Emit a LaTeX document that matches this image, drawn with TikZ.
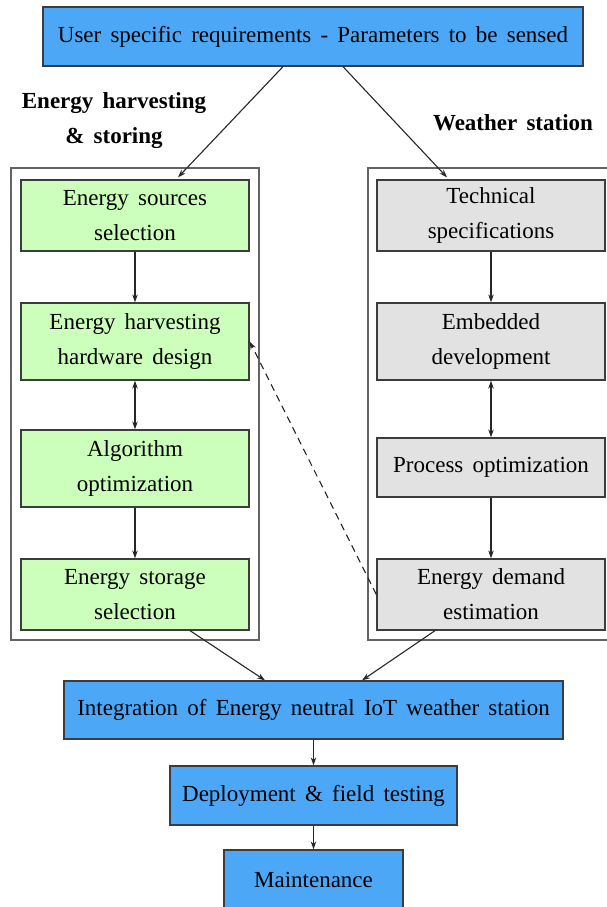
\documentclass[tikz,border=0pt]{standalone}
\usepackage{fontspec}
\setmainfont{Liberation Serif}
\newfontfamily\labfont{Liberation Serif}[WordSpace=1.6]
\usetikzlibrary{arrows.meta}
\definecolor{bluef}{RGB}{76,168,247}
\definecolor{greenf}{RGB}{204,255,187}
\definecolor{grayf}{RGB}{226,226,226}
\definecolor{edge}{RGB}{60,60,60}
\begin{document}
\begin{tikzpicture}[x=1pt,y=-1pt,
  every node/.style={font=\labfont\fontsize{23}{35}\selectfont, inner sep=0pt, align=center},
  box/.style={draw=edge, line width=1.3pt, rectangle},
  bluebox/.style={box, fill=bluef},
  greenbox/.style={box, fill=greenf, minimum width=228pt},
  graybox/.style={box, fill=grayf, minimum width=228pt},
  frame/.style={draw=edge!80, line width=1.3pt},
  arr/.style={draw=black!85, line width=1.1pt, -{Stealth[length=8pt,width=5.5pt]}},
  darr/.style={draw=black!85, line width=1.1pt, {Stealth[length=8pt,width=5.5pt]}-{Stealth[length=8pt,width=5.5pt]}},
  lab/.style={font=\labfont\fontsize{23}{35}\selectfont\bfseries}]
\useasboundingbox (0,0) rectangle (606,907);
\fill[white] (0,0) rectangle (606,907);

% frames
\draw[frame] (11,168) rectangle (259,640);
\draw[frame] (368,168) rectangle (640,640);

% top
\node[bluebox, minimum width=540pt, minimum height=59pt] (top) at (313,36.5) {User specific requirements - Parameters to be sensed};

% labels
\node[lab] (lab1) at (114,121) {Energy harvesting\\\& storing};
\node[lab] (lab2) at (513,123) {Weather station};

% left column
\node[greenbox, minimum height=71pt] (ens) at (135,215.5) {Energy sources\\selection};
\node[greenbox, minimum height=77pt] (ehh) at (135,341.5) {Energy harvesting\\hardware design};
\node[greenbox, minimum height=77pt] (alg) at (135,468.5) {Algorithm\\optimization};
\node[greenbox, minimum height=71pt] (ess) at (135,594.5) {Energy storage\\selection};

% right column
\node[graybox, minimum height=71pt] (tec) at (491,215.5) {Technical\\specifications};
\node[graybox, minimum height=77pt] (emb) at (491,341.5) {Embedded\\development};
\node[graybox, minimum height=59pt] (pro) at (491,467.5) {Process optimization};
\node[graybox, minimum height=71pt] (eds) at (491,594.5) {Energy demand\\estimation};

% bottom
\node[bluebox, minimum width=499pt, minimum height=58pt] (int) at (313.5,710) {Integration of Energy neutral IoT weather station};
\node[bluebox, minimum width=287pt, minimum height=59pt] (dep) at (313.5,795.5) {Deployment \& field testing};
\node[bluebox, minimum width=179pt, minimum height=59pt] (mai) at (313.5,879.5) {Maintenance};

% connectors
\draw[arr] ([xshift=-30pt]top.south) -- ([xshift=43pt,yshift=2pt]ens.north);
\draw[arr] ([xshift=30pt]top.south) -- ([xshift=-44pt,yshift=2pt]tec.north);

\draw[arr] (ens) -- (ehh);
\draw[darr] (ehh) -- (alg);
\draw[arr] (alg) -- (ess);

\draw[arr] (tec) -- (emb);
\draw[darr] (emb) -- (pro);
\draw[arr] (pro) -- (eds);

\draw[arr, dashed, dash pattern=on 7pt off 5pt] (eds.west) -- (ehh.east);

\draw[arr] ([xshift=55pt]ess.south) -- ([xshift=-48.5pt]int.north);
\draw[arr] ([xshift=-56pt]eds.south) -- ([xshift=48.5pt]int.north);

\draw[arr] (int) -- (dep);
\draw[arr] (dep) -- (mai);
\end{tikzpicture}
\end{document}
